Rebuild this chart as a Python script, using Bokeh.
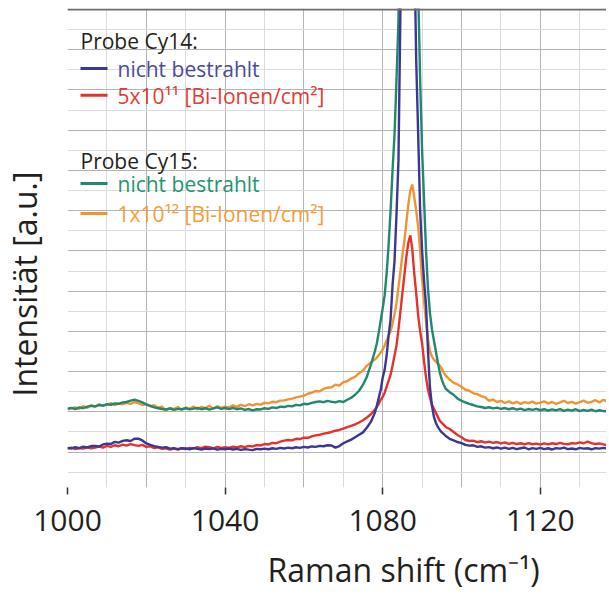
from bokeh.plotting import figure
from bokeh.models import FixedTicker, Span, Label, Range1d, BoxAnnotation, Title
from bokeh.embed import file_html
from bokeh.resources import INLINE

# ---------------- data ----------------
# Raman shift sampling (cm^-1): 1 cm^-1 steps, 0.5 cm^-1 around the peak
X_LEFT = list(range(1000, 1079))
X_MID = [1078.5 + 0.5 * i for i in range(36)]
X_RIGHT = list(range(1097, 1138))
RAMAN_SHIFT = X_LEFT + X_MID + X_RIGHT

# Probe Cy14 - nicht bestrahlt (blue)
CY14_UNIRR = [
    2.21, 2.18, 2.25, 2.20, 2.27, 2.23, 2.30, 2.31, 2.28, 2.38,
    2.42, 2.40, 2.51, 2.47, 2.56, 2.59, 2.55, 2.66, 2.67, 2.58,
    2.43, 2.36, 2.30, 2.26, 2.22, 2.25, 2.17, 2.20, 2.15, 2.19,
    2.18, 2.14, 2.20, 2.16, 2.13, 2.18, 2.15, 2.19, 2.12, 2.16,
    2.14, 2.18, 2.13, 2.16, 2.11, 2.15, 2.12, 2.10, 2.16, 2.14,
    2.17, 2.14, 2.19, 2.16, 2.21, 2.18, 2.22, 2.19, 2.24, 2.21,
    2.26, 2.23, 2.28, 2.26, 2.31, 2.29, 2.34, 2.33, 2.22, 2.30,
    2.44, 2.53, 2.62, 2.74, 2.86, 2.98, 3.22, 3.50, 3.95,
    4.30, 4.70, 5.10, 5.70, 6.10, 6.80, 7.80, 8.60, 10.3, 11.5,
    13.8, 16.5, 24.0, 30.0, 35.0, 39.0, 40.0, 38.0, 33.0, 27.5,
    21.5, 17.8, 14.0, 12.0, 10.5, 9.3, 7.0, 5.2, 4.3, 3.75,
    3.45, 3.25, 3.10, 2.98, 2.90, 2.80,
    2.66, 2.58, 2.50, 2.45, 2.36, 2.32, 2.34, 2.26, 2.29, 2.22,
    2.25, 2.19, 2.23, 2.17, 2.22, 2.16, 2.21, 2.15, 2.19, 2.23,
    2.14, 2.20, 2.16, 2.21, 2.15, 2.19, 2.13, 2.20, 2.17, 2.22,
    2.15, 2.18, 2.14, 2.21, 2.17, 2.19, 2.14, 2.20, 2.17, 2.21,
    2.18,
]

# Probe Cy14 - 5x10^11 Bi-Ionen/cm^2 (red)
CY14_IRR = [
    2.18, 2.22, 2.15, 2.20, 2.17, 2.24, 2.19, 2.23, 2.27, 2.22,
    2.31, 2.26, 2.34, 2.29, 2.37, 2.32, 2.40, 2.35, 2.31, 2.36,
    2.26, 2.29, 2.20, 2.24, 2.16, 2.19, 2.12, 2.17, 2.13, 2.19,
    2.15, 2.21, 2.18, 2.24, 2.20, 2.27, 2.24, 2.19, 2.26, 2.21,
    2.24, 2.21, 2.27, 2.23, 2.29, 2.25, 2.31, 2.28, 2.35, 2.33,
    2.40, 2.38, 2.46, 2.44, 2.52, 2.57, 2.60, 2.58, 2.66, 2.65,
    2.72, 2.71, 2.78, 2.83, 2.86, 2.92, 2.95, 3.00, 3.06, 3.10,
    3.17, 3.24, 3.30, 3.38, 3.47, 3.58, 3.72, 3.88, 4.10,
    4.25, 4.40, 4.60, 4.75, 4.95, 5.25, 5.55, 5.85, 6.30, 6.80,
    7.30, 8.10, 9.00, 9.90, 10.8, 11.7, 12.4, 12.77, 12.1, 10.9,
    9.90, 8.80, 8.00, 7.40, 6.50, 5.70, 5.10, 4.70, 4.35, 4.15,
    3.95, 3.75, 3.55, 3.45, 3.35, 3.25,
    3.15, 3.00, 2.85, 2.74, 2.60, 2.55, 2.57, 2.49, 2.54, 2.47,
    2.52, 2.46, 2.50, 2.43, 2.48, 2.41, 2.46, 2.40, 2.44, 2.38,
    2.45, 2.39, 2.42, 2.37, 2.43, 2.38, 2.44, 2.40, 2.46, 2.41,
    2.39, 2.45, 2.42, 2.48, 2.44, 2.52, 2.45, 2.40, 2.43, 2.38,
    2.34,
]

# Probe Cy15 - nicht bestrahlt (green)
CY15_UNIRR = [
    4.16, 4.20, 4.14, 4.22, 4.18, 4.26, 4.30, 4.27, 4.34, 4.31,
    4.38, 4.35, 4.42, 4.40, 4.47, 4.49, 4.56, 4.60, 4.55, 4.47,
    4.36, 4.30, 4.22, 4.18, 4.14, 4.12, 4.17, 4.10, 4.15, 4.13,
    4.18, 4.12, 4.16, 4.20, 4.13, 4.18, 4.11, 4.17, 4.22, 4.15,
    4.19, 4.14, 4.20, 4.13, 4.17, 4.10, 4.14, 4.07, 4.13, 4.12,
    4.18, 4.15, 4.22, 4.19, 4.26, 4.24, 4.30, 4.27, 4.35, 4.32,
    4.40, 4.38, 4.45, 4.49, 4.52, 4.48, 4.55, 4.50, 4.47, 4.53,
    4.49, 4.60, 4.70, 4.85, 5.05, 5.35, 5.75, 6.35, 7.00,
    7.40, 7.95, 8.55, 9.15, 9.80, 10.9, 12.3, 14.0, 16.0, 17.8,
    20.5, 23.5, 29.0, 36.0, 42.0, 46.0, 48.0, 47.0, 44.0, 38.0,
    31.0, 25.0, 20.5, 17.0, 14.5, 12.0, 10.1, 8.90, 8.10, 7.55,
    7.00, 6.45, 5.95, 5.60, 5.35, 5.15,
    4.98, 4.85, 4.66, 4.55, 4.47, 4.40, 4.34, 4.27, 4.24, 4.19,
    4.23, 4.17, 4.21, 4.15, 4.19, 4.13, 4.18, 4.11, 4.16, 4.09,
    4.14, 4.10, 4.15, 4.08, 4.13, 4.06, 4.12, 4.07, 4.14, 4.05,
    4.11, 4.06, 4.13, 4.04, 4.10, 4.05, 4.11, 4.03, 4.08, 4.04,
    4.02,
]

# Probe Cy15 - 1x10^12 Bi-Ionen/cm^2 (orange)
CY15_IRR = [
    4.12, 4.18, 4.22, 4.15, 4.28, 4.20, 4.33, 4.25, 4.38, 4.30,
    4.36, 4.44, 4.33, 4.41, 4.38, 4.45, 4.40, 4.48, 4.42, 4.35,
    4.40, 4.28, 4.33, 4.22, 4.26, 4.05, 4.20, 4.14, 4.24, 4.10,
    4.22, 4.15, 4.27, 4.12, 4.25, 4.18, 4.30, 4.16, 4.28, 4.20,
    4.26, 4.22, 4.32, 4.25, 4.35, 4.28, 4.38, 4.32, 4.40, 4.36,
    4.45, 4.42, 4.50, 4.48, 4.56, 4.57, 4.62, 4.66, 4.72, 4.76,
    4.80, 4.90, 4.95, 5.04, 5.02, 5.14, 5.20, 5.22, 5.35, 5.30,
    5.48, 5.52, 5.66, 5.74, 5.92, 6.05, 6.30, 6.45, 6.60,
    6.70, 6.82, 6.95, 7.10, 7.30, 7.55, 7.80, 8.00, 8.40, 8.85,
    9.40, 10.2, 11.0, 11.8, 12.5, 13.4, 14.3, 15.0, 15.3, 14.7,
    14.0, 13.2, 12.0, 10.6, 9.50, 8.50, 7.60, 7.00, 6.75, 6.60,
    6.50, 6.40, 6.30, 6.15, 5.95, 5.80,
    5.60, 5.45, 5.36, 5.25, 5.10, 5.05, 4.92, 4.88, 4.78, 4.72,
    4.55, 4.62, 4.49, 4.55, 4.44, 4.52, 4.42, 4.50, 4.40, 4.48,
    4.43, 4.51, 4.41, 4.46, 4.52, 4.42, 4.49, 4.40, 4.47, 4.55,
    4.44, 4.50, 4.41, 4.48, 4.56, 4.45, 4.50, 4.58, 4.47, 4.60,
    4.52,
]

X_TICKS = [1000, 1040, 1080, 1120]
X_GRID_MAJOR = [1000, 1020, 1040, 1060, 1080, 1100, 1120]
X_GRID_MINOR = [1010, 1030, 1050, 1070, 1090, 1110, 1130]
Y_GRID_MAJOR = [0, 2, 4, 6, 8, 10, 12, 14, 16, 18, 20, 22, 24]
Y_GRID_MINOR = [1, 3, 5, 7, 9, 11, 13, 15, 17, 19, 21, 23]

X_LABEL = "Raman shift (cm\u207b\u00b9)"
Y_LABEL = "Intensität [a.u.]"

SERIES_COLORS = {
    "cy14_unirr": "#3b3795",
    "cy14_irr": "#e5322a",
    "cy15_unirr": "#22876f",
    "cy15_irr": "#f29331",
}
TEXT_COLORS = {
    "cy14_unirr": "#4c4a9c",
    "cy14_irr": "#e43a30",
    "cy15_unirr": "#1f9670",
    "cy15_irr": "#f59e38",
}

GROUP_TITLES = ["Probe Cy14:", "Probe Cy15:"]
LEGEND_LABELS = {
    "cy14_unirr": "nicht bestrahlt",
    "cy14_irr": "5x10\u00b9\u00b9 [Bi-Ionen/cm\u00b2]",
    "cy15_unirr": "nicht bestrahlt",
    "cy15_irr": "1x10\u00b9\u00b2 [Bi-Ionen/cm\u00b2]",
}

FONT = "Open Sans"

assert len(RAMAN_SHIFT) == len(CY14_UNIRR) == len(CY14_IRR) == len(CY15_UNIRR) == len(CY15_IRR)

# ---------------- figure ----------------
p = figure(
    width=606, height=602,
    x_range=Range1d(1000, 1136.8), y_range=Range1d(0.24, 24.05),
    output_backend="svg", toolbar_location=None,
    min_border_left=67, min_border_right=0, min_border_top=8, min_border_bottom=113,
)
p.outline_line_color = None
p.background_fill_color = "white"
p.border_fill_color = "white"

# y axis: one invisible (white) tick with an empty label -> a 20 px spacer next to the frame
ya = p.yaxis[0]
ya.ticker = FixedTicker(ticks=[12])
ya.major_label_overrides = {12: ""}
ya.axis_line_color = None
ya.major_tick_line_color = "white"
ya.major_tick_out = 20
ya.major_tick_in = 0
ya.minor_tick_out = 0
ya.minor_tick_in = 0
ya.major_label_standoff = 0

xa = p.xaxis[0]
xa.ticker = FixedTicker(ticks=X_TICKS)
xa.axis_line_color = None
xa.major_tick_line_color = "#333333"
xa.major_tick_line_width = 1.5
xa.major_tick_out = 7
xa.major_tick_in = 0
xa.minor_tick_out = 0
xa.minor_tick_in = 0
xa.major_label_text_font = FONT
xa.major_label_text_font_size = "30px"
xa.major_label_text_color = "#231f20"
xa.major_label_standoff = 15

p.xgrid.ticker = FixedTicker(ticks=X_GRID_MAJOR, minor_ticks=X_GRID_MINOR)
p.xgrid.grid_line_color = "#b4b4b4"
p.xgrid.minor_grid_line_color = "#dcdcdc"
p.ygrid.ticker = FixedTicker(ticks=Y_GRID_MAJOR, minor_ticks=Y_GRID_MINOR)
p.ygrid.grid_line_color = "#b4b4b4"
p.ygrid.minor_grid_line_color = "#dcdcdc"

p.add_layout(Span(location=24, dimension="width", line_color="#6e6e6e", line_width=2))

for key, ys in [("cy15_irr", CY15_IRR), ("cy15_unirr", CY15_UNIRR),
                ("cy14_irr", CY14_IRR), ("cy14_unirr", CY14_UNIRR)]:
    p.line(RAMAN_SHIFT, ys, line_color=SERIES_COLORS[key], line_width=2.4)

# ---------------- legend (screen coords relative to frame) ----------------
p.add_layout(Label(x=13, y=447, x_units="screen", y_units="screen", text=GROUP_TITLES[0],
                   text_baseline="alphabetic",
                   text_font=FONT, text_font_size="21px", text_color="#231f20"))
p.add_layout(Label(x=13, y=327, x_units="screen", y_units="screen", text=GROUP_TITLES[1],
                   text_baseline="alphabetic",
                   text_font=FONT, text_font_size="21px", text_color="#231f20"))
for key, sy in [("cy14_unirr", 419), ("cy14_irr", 392.3), ("cy15_unirr", 304), ("cy15_irr", 274)]:
    p.add_layout(BoxAnnotation(left=13, right=40, bottom=sy - 1.5, top=sy + 1.5,
                               left_units="screen", right_units="screen",
                               bottom_units="screen", top_units="screen",
                               fill_color=SERIES_COLORS[key], fill_alpha=1.0, line_color=None))
    p.add_layout(Label(x=50, y=sy - 0.5, x_units="screen", y_units="screen",
                       text=LEGEND_LABELS[key], text_baseline="alphabetic",
                       text_font=FONT, text_font_size="21px",
                       text_color=TEXT_COLORS[key]))

# axis titles (as side titles so they are drawn outside the frame)
p.add_layout(Title(text=X_LABEL, align="left", offset=200, standoff=24,
                   text_font=FONT, text_font_size="32px", text_font_style="normal",
                   text_color="#231f20"), "below")
p.add_layout(Title(text=Y_LABEL, align="left", offset=91, standoff=0, vertical_align="top",
                   text_font=FONT, text_font_size="32px", text_font_style="normal",
                   text_color="#231f20"), "left")

open("out.html", "w").write(file_html(p, INLINE))
